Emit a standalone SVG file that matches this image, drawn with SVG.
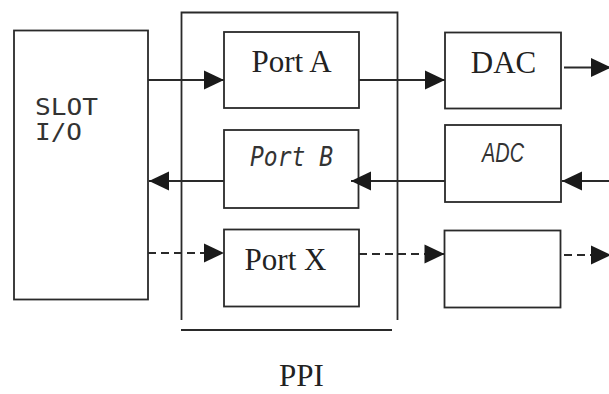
<svg xmlns="http://www.w3.org/2000/svg" width="609" height="394" viewBox="0 0 609 394">
<style>
.box{fill:#fff;stroke:#2a2a2a;stroke-width:1.8}
.ln{fill:none;stroke:#2a2a2a;stroke-width:1.8}
.dash{stroke-dasharray:8 5}
.serif{font-family:"Liberation Serif","Times New Roman",serif;font-size:31px;fill:#222}
.mono{font-family:"DejaVu Sans Mono","Liberation Mono",monospace;fill:#333}
.it{font-family:"Liberation Sans",Arial,sans-serif;font-style:italic;fill:#333}
</style>
<defs>
<marker id="ah" markerUnits="userSpaceOnUse" markerWidth="21" markerHeight="20" refX="20" refY="10" orient="auto" overflow="visible">
<path d="M0,0.5 L20,10 L0,19.5 Z" fill="#1a1a1a" stroke="none"/>
</marker>
</defs>
<rect width="609" height="394" fill="#fff"/>
<g id="ppi">
<path class="ln" d="M181.5,320 V12.5 H397.5 V320"/>
<line class="ln" x1="181" y1="330" x2="392" y2="330"/>
<text class="serif" x="301.5" y="386" text-anchor="middle" font-size="28">PPI</text>
</g>
<g id="slot">
<rect class="box" x="14" y="30.5" width="134" height="269"/>
<text class="mono" x="35" y="115" font-size="23" textLength="63" lengthAdjust="spacingAndGlyphs">SLOT</text>
<text class="mono" x="35" y="140" font-size="23" textLength="47" lengthAdjust="spacingAndGlyphs">I/O</text>
</g>
<g id="portA">
<rect class="box" x="224" y="32" width="135" height="76"/>
<text class="serif" x="291.5" y="72" text-anchor="middle">Port A</text>
</g>
<g id="portB">
<rect class="box" x="224" y="130" width="134.5" height="78"/>
<text class="mono" x="250" y="166" font-size="26" font-style="italic" textLength="83" lengthAdjust="spacingAndGlyphs">Port B</text>
</g>
<g id="portX">
<rect class="box" x="224" y="229.5" width="135" height="77"/>
<text class="serif" x="285.5" y="270" text-anchor="middle">Port X</text>
</g>
<g id="dac">
<rect class="box" x="445" y="32.5" width="116" height="76"/>
<text class="serif" x="503.5" y="73" text-anchor="middle">DAC</text>
</g>
<g id="adc">
<rect class="box" x="445" y="125" width="116" height="77"/>
<text class="it" x="482" y="161.5" font-size="27" textLength="42" lengthAdjust="spacingAndGlyphs">ADC</text>
</g>
<g id="blank">
<rect class="box" x="444.5" y="230.5" width="116" height="77"/>
</g>
<g id="connectors">
<line class="ln" x1="148" y1="80" x2="224" y2="80" marker-end="url(#ah)"/>
<line class="ln" x1="359" y1="80" x2="445" y2="80" marker-end="url(#ah)"/>
<line class="ln" x1="564" y1="67.5" x2="611" y2="67.5" marker-end="url(#ah)"/>
<line class="ln" x1="609" y1="181" x2="562" y2="181" marker-end="url(#ah)"/>
<line class="ln" x1="445" y1="181" x2="351" y2="181" marker-end="url(#ah)"/>
<line class="ln" x1="224" y1="181" x2="149" y2="181" marker-end="url(#ah)"/>
<line class="ln dash" x1="148" y1="253" x2="224" y2="253" marker-end="url(#ah)"/>
<line class="ln dash" x1="359" y1="254" x2="444.5" y2="254" marker-end="url(#ah)"/>
<line class="ln dash" x1="564" y1="255" x2="611" y2="255" marker-end="url(#ah)"/>
</g>
</svg>
